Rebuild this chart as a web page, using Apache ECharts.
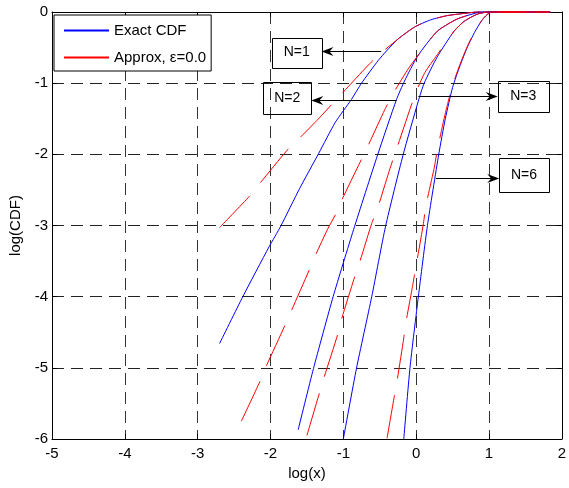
<!DOCTYPE html>
<html>
<head>
<meta charset="utf-8">
<script src="https://cdn.jsdelivr.net/npm/echarts@6/dist/echarts.min.js"></script>
<style>
  html, body { margin: 0; padding: 0; background: #fff; }
  #chart { width: 569px; height: 488px; }
</style>
</head>
<body>
<div id="chart"></div>
<script>
// log10(x) / log10(CDF) pairs
const exactN1 = [[-2.70,-4.66],[-2.38,-4.00],[-2.02,-3.30],[-1.86,-3.01],[-1.60,-2.48],[-1.34,-1.99],[-1.11,-1.55],[-0.89,-1.23],[-0.75,-1.00],[-0.52,-0.68],[-0.41,-0.55],[-0.25,-0.38],[-0.02,-0.21],[0.20,-0.11],[0.43,-0.05],[0.66,-0.02],[0.84,0],[1.84,0]];
const exactN2 = [[-1.62,-5.87],[-1.41,-5.01],[-1.14,-4.00],[-0.86,-3.06],[-0.53,-2.01],[-0.27,-1.23],[-0.16,-0.97],[0.02,-0.62],[0.29,-0.27],[0.56,-0.10],[0.84,-0.01],[1.0,0],[1.84,0]];
const exactN3 = [[-1.00,-6.00],[-0.82,-5.01],[-0.61,-4.00],[-0.42,-3.01],[-0.18,-2.01],[0.03,-1.25],[0.11,-1.00],[0.29,-0.63],[0.52,-0.27],[0.66,-0.13],[0.84,-0.03],[1.0,0],[1.84,0]];
const exactN6 = [[-0.17,-6.00],[-0.085,-5.00],[0.03,-4.00],[0.155,-3.00],[0.31,-2.00],[0.40,-1.50],[0.50,-1.06],[0.60,-0.76],[0.70,-0.50],[0.80,-0.29],[0.90,-0.12],[0.97,-0.04],[1.04,0],[1.84,0]];

const approxN1 = [[-2.70,-3.03],[-2.29,-2.59],[-2.14,-2.40],[-1.77,-1.94],[-1.59,-1.76],[-1.34,-1.50],[-1.16,-1.30],[-1.06,-1.19],[-0.67,-0.76],[-0.52,-0.61],[-0.25,-0.38],[-0.02,-0.21],[0.20,-0.11],[0.43,-0.05],[0.66,-0.02],[0.84,0],[1.84,0]];
const approxN2 = [[-2.40,-5.75],[-2.14,-5.18],[-2.06,-4.98],[-1.80,-4.40],[-1.71,-4.19],[-1.47,-3.63],[-1.37,-3.39],[-1.22,-3.06],[-1.11,-2.85],[-1.02,-2.64],[-0.77,-2.11],[-0.67,-1.90],[-0.43,-1.37],[-0.33,-1.17],[-0.11,-0.80],[0.02,-0.62],[0.29,-0.27],[0.56,-0.10],[0.84,-0.01],[1.0,0],[1.84,0]];
const approxN3 = [[-1.50,-5.95],[-1.33,-5.36],[-1.26,-5.12],[-1.08,-4.54],[-1.02,-4.30],[-0.85,-3.74],[-0.78,-3.53],[-0.61,-2.97],[-0.53,-2.76],[-0.36,-2.20],[-0.27,-1.93],[-0.09,-1.38],[0.0,-1.12],[0.12,-0.85],[0.29,-0.60],[0.52,-0.27],[0.66,-0.13],[0.84,-0.03],[1.0,0],[1.84,0]];
const approxN6 = [[-0.40,-5.99],[-0.30,-5.40],[-0.26,-5.17],[-0.17,-4.58],[-0.14,-4.36],[-0.06,-3.91],[0.0,-3.56],[0.10,-2.97],[0.13,-2.74],[0.25,-2.18],[0.29,-1.94],[0.41,-1.38],[0.50,-1.03],[0.60,-0.74],[0.70,-0.49],[0.80,-0.28],[0.90,-0.12],[0.97,-0.04],[1.04,0],[1.84,0]];

const exactName = 'Exact CDF';
const approxName = 'Approx, ε=0.0';

// annotation text boxes (data coords) and the arrow start on each curve
const noteLabels = ['N=1', 'N=2', 'N=3', 'N=6'];
const noteBoxes = [[-1.98,-0.36,-1.30,-0.78],[-2.10,-0.99,-1.44,-1.44],[1.12,-0.97,1.82,-1.40],[1.14,-2.05,1.82,-2.53]];
const noteArrows = [[-0.48,-0.55,-1.30],[-0.27,-1.23,-1.44],[0.03,-1.185,1.12],[0.27,-2.335,1.14]];

const font = "'Liberation Sans', Arial, sans-serif";

const chart = echarts.init(document.getElementById('chart'));

function curve(data, color, dashed) {
  return {
    name: dashed ? approxName : exactName,
    type: 'line',
    data: data,
    symbol: 'none',
    showSymbol: false,
    smooth: 0.2,
    clip: false,
    lineStyle: { color: color, width: 1, type: dashed ? [44, 17] : 'solid' },
    itemStyle: { color: color },
    z: 3
  };
}

const frameAxis = {
  type: 'value',
  axisLine: { show: true, onZero: false, lineStyle: { color: '#000', width: 1 } },
  axisTick: { show: true, inside: true, length: 5, lineStyle: { color: '#000' } },
  axisLabel: { show: false },
  splitLine: { show: false }
};

chart.setOption({
  animation: false,
  backgroundColor: '#fff',
  grid: { left: 52, right: 3, top: 12, bottom: 49 },
  legend: {
    left: 54, top: 15,
    orient: 'vertical',
    data: [exactName, approxName],
    itemWidth: 45, itemHeight: 14, itemGap: 12,
    padding: [8, 5, 6, 9],
    borderColor: '#000', borderWidth: 1, borderRadius: 0,
    backgroundColor: '#fff',
    itemStyle: { opacity: 0 },
    lineStyle: { type: 'solid' },
    textStyle: { color: '#000', fontSize: 15, fontFamily: font },
    z: 10
  },
  xAxis: [{
    type: 'value', min: -5, max: 2, interval: 1,
    name: 'log(x)', nameLocation: 'middle', nameGap: 26,
    nameTextStyle: { color: '#000', fontSize: 15, fontFamily: font },
    axisLine: { show: true, onZero: false, lineStyle: { color: '#000', width: 1 } },
    axisTick: { show: true, inside: true, length: 5, lineStyle: { color: '#000' } },
    axisLabel: { color: '#000', fontSize: 15, fontFamily: font, margin: 7 },
    splitLine: { show: true, lineStyle: { color: '#333', width: 1, type: [12, 7] } }
  }, Object.assign({}, frameAxis, { position: 'top', min: -5, max: 2, interval: 1 })],
  yAxis: [{
    type: 'value', min: -6, max: 0, interval: 1,
    name: 'log(CDF)', nameLocation: 'middle', nameGap: 22, nameRotate: 90,
    nameTextStyle: { color: '#000', fontSize: 15, fontFamily: font },
    axisLine: { show: true, onZero: false, lineStyle: { color: '#000', width: 1 } },
    axisTick: { show: true, inside: true, length: 5, lineStyle: { color: '#000' } },
    axisLabel: { color: '#000', fontSize: 15, fontFamily: font, margin: 4 },
    splitLine: { show: true, lineStyle: { color: '#222', width: 1, type: [12, 7] } }
  }, Object.assign({}, frameAxis, { position: 'right', min: -6, max: 0, interval: 1 })],
  series: [
    curve(exactN1, '#0000ff', false),
    curve(exactN2, '#0000ff', false),
    curve(exactN3, '#0000ff', false),
    curve(exactN6, '#0000ff', false),
    curve(approxN1, '#ff0000', true),
    curve(approxN2, '#ff0000', true),
    curve(approxN3, '#ff0000', true),
    curve(approxN6, '#ff0000', true)
  ]
});

// text boxes and arrows placed through the chart's own scales
const toPx = p => chart.convertToPixel({ seriesIndex: 0 }, p);
const graphics = [];
noteLabels.forEach((label, i) => {
  const b = noteBoxes[i];
  const p1 = toPx([b[0], b[1]]);
  const p2 = toPx([b[2], b[3]]);
  graphics.push({
    type: 'rect',
    shape: { x: Math.round(p1[0]) + 0.5, y: Math.round(p1[1]) + 0.5, width: Math.round(p2[0] - p1[0]), height: Math.round(p2[1] - p1[1]) },
    style: { fill: null, stroke: '#000', lineWidth: 1 },
    z: 20
  });
  graphics.push({
    type: 'text',
    x: (p1[0] + p2[0]) / 2, y: (p1[1] + p2[1]) / 2,
    style: { text: label, fill: '#000', font: '14px ' + font, align: 'center', verticalAlign: 'middle' },
    z: 20
  });
  const a = noteArrows[i];
  const s = toPx([a[0], a[1]]);
  const e = toPx([a[2], a[1]]);
  const y = Math.round(s[1]) + 0.5;
  const dir = e[0] > s[0] ? 1 : -1;
  graphics.push({
    type: 'line',
    shape: { x1: s[0], y1: y, x2: e[0] - dir * 6, y2: y },
    style: { stroke: '#000', lineWidth: 1 },
    z: 20
  });
  graphics.push({
    type: 'polygon',
    shape: { points: [[e[0], y], [e[0] - dir * 12, y - 4.5], [e[0] - dir * 8, y], [e[0] - dir * 12, y + 4.5]] },
    style: { fill: '#000' },
    z: 20
  });
});
chart.setOption({ graphic: graphics });
</script>
</body>
</html>
